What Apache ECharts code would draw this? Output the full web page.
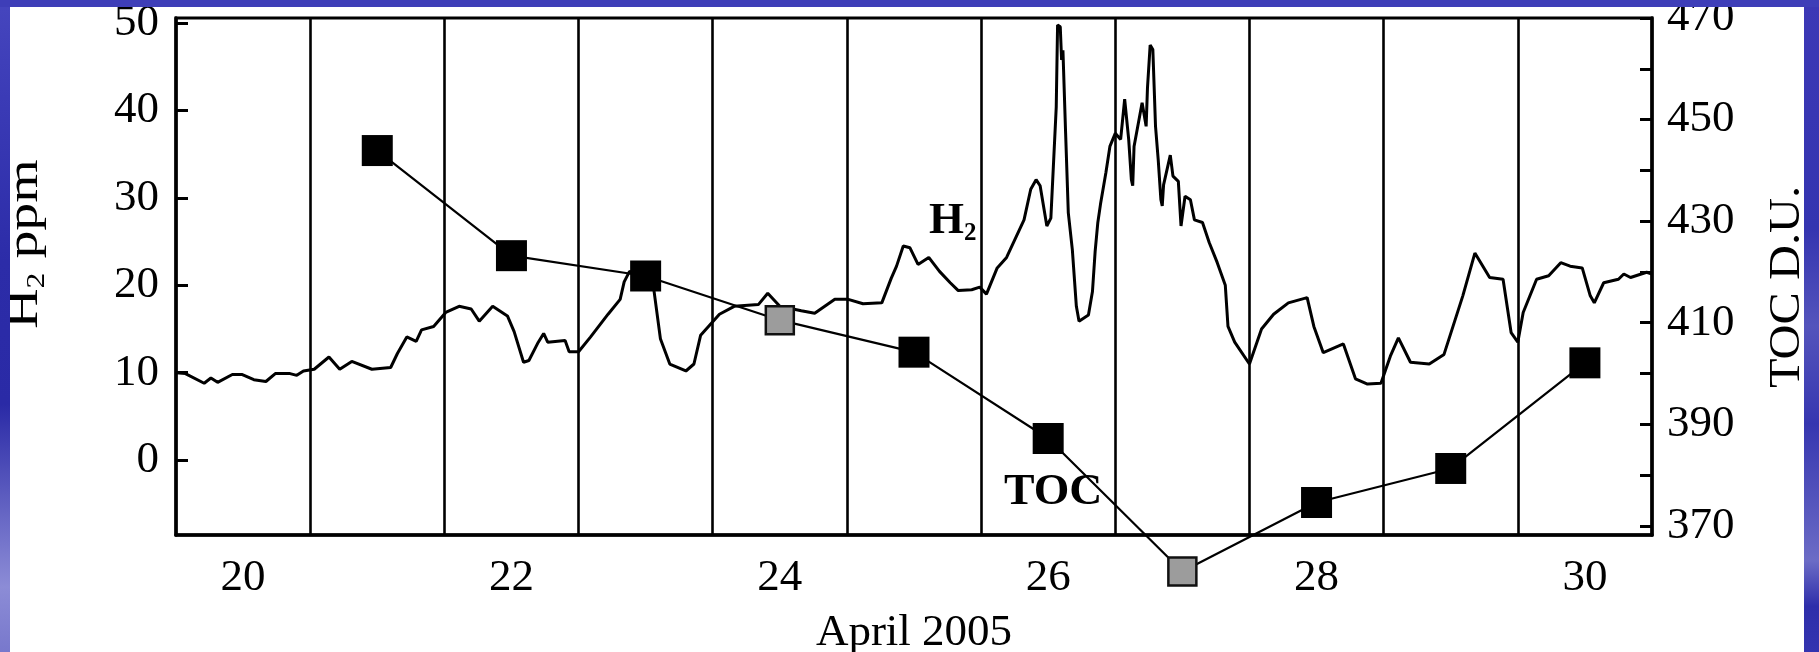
<!DOCTYPE html>
<html><head><meta charset="utf-8">
<script src="https://cdn.jsdelivr.net/npm/echarts@6/dist/echarts.min.js"></script>
<style>html,body{margin:0;padding:0;background:#fff}#c{width:1819px;height:652px}</style>
</head><body><div id="c"></div>
<script>
// ---- data ----
const h2Days = [19.5,19.57,19.71,19.76,19.81,19.92,19.99,20.08,20.17,20.24,20.35,20.40,20.45,20.53,20.64,20.72,20.81,20.96,21.10,21.15,21.22,21.29,21.33,21.42,21.51,21.61,21.70,21.76,21.86,21.97,22.02,22.09,22.13,22.20,22.24,22.27,22.40,22.43,22.50,22.59,22.72,22.81,22.84,22.88,22.95,23.05,23.11,23.18,23.30,23.36,23.41,23.55,23.66,23.84,23.91,24.00,24.16,24.26,24.41,24.51,24.62,24.76,24.83,24.87,24.92,24.97,25.03,25.11,25.19,25.27,25.33,25.43,25.49,25.54,25.62,25.69,25.82,25.87,25.91,25.94,25.99,26.02,26.06,26.07,26.09,26.10,26.11,26.13,26.15,26.18,26.21,26.23,26.30,26.33,26.35,26.37,26.39,26.43,26.46,26.50,26.54,26.57,26.60,26.62,26.63,26.64,26.70,26.73,26.74,26.76,26.78,26.80,26.82,26.84,26.85,26.86,26.91,26.93,26.97,26.99,27.02,27.06,27.09,27.15,27.20,27.26,27.32,27.34,27.39,27.50,27.59,27.68,27.79,27.93,27.98,28.05,28.20,28.29,28.38,28.48,28.55,28.61,28.70,28.84,28.95,29.09,29.18,29.29,29.39,29.45,29.50,29.54,29.64,29.73,29.82,29.89,29.98,30.04,30.07,30.14,30.25,30.29,30.34,30.46,30.50];
const h2Ppm = [10.0,9.9,8.8,9.4,8.9,9.8,9.8,9.2,9.0,9.9,9.9,9.7,10.2,10.4,11.8,10.4,11.3,10.4,10.6,12.2,14.1,13.6,14.9,15.3,16.9,17.6,17.3,15.9,17.6,16.5,14.7,11.2,11.4,13.5,14.5,13.5,13.7,12.4,12.4,14.1,16.7,18.4,20.4,21.6,21.3,20.8,13.9,11.0,10.2,11.0,14.3,16.7,17.6,17.8,19.1,17.6,17.1,16.8,18.4,18.4,17.9,18.0,20.8,22.2,24.5,24.3,22.4,23.2,21.6,20.3,19.4,19.5,19.8,19.0,22.0,23.2,27.5,31.0,32.1,31.4,26.8,27.7,40.4,49.8,49.6,45.8,46.9,37.4,28.3,24.1,17.6,15.9,16.6,19.3,23.9,27.2,29.3,32.9,35.9,37.4,36.7,41.3,36.7,32.1,31.4,35.9,40.9,38.2,42.6,47.5,47.0,38.2,34.4,29.8,29.1,31.5,34.9,32.5,31.9,26.8,30.2,29.8,27.5,27.2,24.9,22.6,20.0,15.3,13.5,11.0,15.0,16.7,18.0,18.6,15.3,12.3,13.3,9.3,8.7,8.8,11.9,14.0,11.2,11.0,12.1,18.8,23.7,20.9,20.7,14.6,13.5,16.9,20.7,21.1,22.6,22.2,22.0,18.8,18.0,20.3,20.7,21.3,20.9,21.5,21.3];
const tocDays = [21,22,23,24,25,26,27,28,29,30];
const tocDU = [443.9,423.2,419.2,410.5,404.2,387.2,361.0,374.6,381.3,402.1];
const tocGrayDays = [24,27];
const dayBoundaries = [20.5,21.5,22.5,23.5,24.5,25.5,26.5,27.5,28.5,29.5];
const xLabelValues = [20,22,24,26,28,30];
const leftTickValues = [0,10,20,30,40,50];
const rightTickValues = [370,380,390,400,410,420,430,440,450,460,470];
const rightLabelValues = [370,390,410,430,450,470];

const FONT = "'Liberation Serif','Times New Roman',serif";
const chart = echarts.init(document.getElementById('c'), null, {renderer:'canvas'});

const h2Data = h2Days.map((d,i)=>[d,h2Ppm[i]]);
const tocData = tocDays.map((d,i)=>{
  const gray = tocGrayDays.indexOf(d) >= 0;
  return gray ? {value:[d,tocDU[i]], symbolSize:28, itemStyle:{color:'#9c9c9c',borderColor:'#111',borderWidth:2.5}}
              : {value:[d,tocDU[i]]};
});

const leftBandGrad = new echarts.graphic.LinearGradient(0,0,0,1,[
  {offset:0,color:'#4646be'},{offset:0.15,color:'#3b3bb6'},{offset:0.4,color:'#2c2ca8'},
  {offset:0.62,color:'#2a2aa6'},{offset:0.8,color:'#6a6ac6'},{offset:0.9,color:'#8c8cd6'},{offset:1,color:'#7878cc'}]);
const rightBandGrad = new echarts.graphic.LinearGradient(0,0,0,1,[
  {offset:0,color:'#3c38b6'},{offset:0.35,color:'#3434b0'},{offset:0.5,color:'#5454bc'},
  {offset:0.65,color:'#3636b0'},{offset:0.86,color:'#6c6cc6'},{offset:0.93,color:'#2e2eaa'},{offset:1,color:'#3434b0'}]);

const option = {
  animation:false,
  backgroundColor:'#ffffff',
  grid:{left:176,right:167,top:18,bottom:117,containLabel:false,outerBoundsMode:'none',
        show:true,borderColor:'#000',borderWidth:3,backgroundColor:'transparent'},
  xAxis:{type:'value',min:19.5,max:30.5,
    axisLine:{show:true,onZero:false,lineStyle:{color:'#000',width:3.5}},
    axisTick:{show:false},splitLine:{show:false},
    axisLabel:{customValues:xLabelValues,color:'#000',fontFamily:FONT,fontSize:45,margin:21},
    name:'April 2005',nameLocation:'middle',nameGap:76,
    nameTextStyle:{color:'#000',fontFamily:FONT,fontSize:45}},
  yAxis:[
    {type:'value',min:-8.57,max:50.6,position:'left',
     axisLine:{show:true,onZero:false,lineStyle:{color:'#000',width:3.5}},
     axisTick:{show:true,inside:true,length:12,customValues:leftTickValues,lineStyle:{color:'#000',width:3}},
     splitLine:{show:false},
     axisLabel:{customValues:leftTickValues,color:'#000',fontFamily:FONT,fontSize:45,margin:17}},
    {type:'value',min:368.2,max:470,position:'right',
     axisLine:{show:true,onZero:false,lineStyle:{color:'#000',width:3.5}},
     axisTick:{show:true,inside:true,length:12,customValues:rightTickValues,lineStyle:{color:'#000',width:3}},
     splitLine:{show:false},
     axisLabel:{customValues:rightLabelValues,color:'#000',fontFamily:FONT,fontSize:45,margin:15}}
  ],
  series:[
    {type:'line',name:'H2',xAxisIndex:0,yAxisIndex:0,data:h2Data,showSymbol:false,symbol:'none',
     lineStyle:{color:'#000',width:3},z:3,
     markLine:{silent:true,symbol:['none','none'],label:{show:false},animation:false,
       lineStyle:{color:'#000',width:2.6,type:'solid'},emphasis:{disabled:true},
       data:dayBoundaries.map(d=>({xAxis:d}))}},
    {type:'line',name:'TOC',xAxisIndex:0,yAxisIndex:1,data:tocData,clip:false,
     symbol:'rect',symbolSize:31,itemStyle:{color:'#000'},
     lineStyle:{color:'#000',width:2.2},z:5}
  ],
  graphic:[
    {type:'text',x:929,y:221,z:50,style:{text:'{a|H}{b|2}',fill:'#000',align:'left',verticalAlign:'middle',
      rich:{a:{fontFamily:FONT,fontSize:45,fontWeight:'bold',lineHeight:50,fill:'#000'},
            b:{fontFamily:FONT,fontSize:25,fontWeight:'bold',lineHeight:30,verticalAlign:'bottom',fill:'#000'}}}},
    {type:'text',x:1004,y:493,z:50,scaleX:1.04,style:{text:'TOC',fill:'#000',font:"bold 44px 'Liberation Serif',serif",align:'left',verticalAlign:'middle'}},
    {type:'text',x:25,y:244,rotation:Math.PI/2,scaleX:1.27,z:50,style:{text:'{a|H}{b|2}{a| ppm}',align:'center',verticalAlign:'middle',
      rich:{a:{fontFamily:FONT,fontSize:44,lineHeight:50,fill:'#000'},
            b:{fontFamily:FONT,fontSize:25,lineHeight:30,verticalAlign:'bottom',fill:'#000'}}}},
    {type:'text',x:1787,y:287,rotation:Math.PI/2,scaleX:1.1,z:50,style:{text:'TOC D.U.',fill:'#000',font:"44px 'Liberation Serif',serif",align:'center',verticalAlign:'middle'}},
    {type:'rect',z:100,shape:{x:0,y:0,width:10,height:652},style:{fill:leftBandGrad}},
    {type:'rect',z:100,shape:{x:1804,y:0,width:15,height:652},style:{fill:rightBandGrad}},
    {type:'rect',z:101,shape:{x:0,y:0,width:1819,height:7},style:{fill:'#3e3eb8'}}
  ]
};
chart.setOption(option);
</script></body></html>
